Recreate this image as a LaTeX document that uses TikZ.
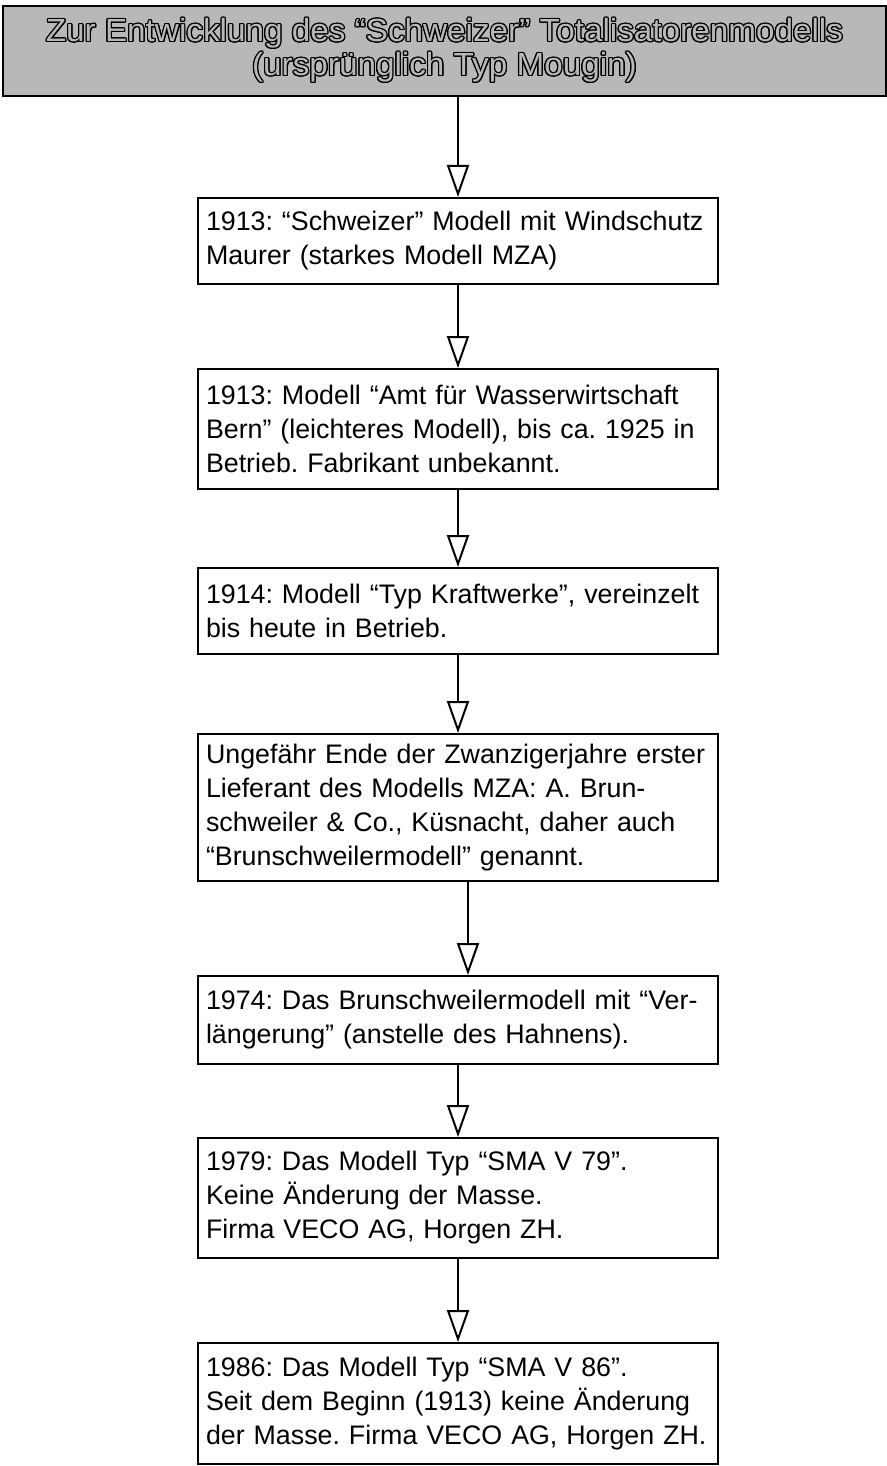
\documentclass[tikz,border=0pt]{standalone}
\usepackage{fontspec}
\setmainfont{Liberation Sans}
\newfontfamily\headfont[FakeStretch=1.04]{Liberation Sans}
\usepackage{xcolor}
\usepackage{contour}
\usetikzlibrary{arrows.meta, positioning}
\definecolor{hdgray}{gray}{0.72}
\contourlength{0.6pt}
\tikzset{
  box/.style={draw, line width=1pt, anchor=north west, text width=252pt, inner xsep=4pt,
    align=left, font=\fontsize{13.4}{17}\selectfont\frenchspacing},
  head/.style={draw, line width=1pt, fill=hdgray, anchor=north west, minimum width=441.5pt,
    minimum height=45pt, inner sep=0pt, align=center, font=\headfont\fontsize{16}{17}\selectfont},
  flow/.style={line width=1pt, -{Triangle[open, width=11pt, length=16pt, line width=1pt]}}
}
\begin{document}
\begin{tikzpicture}[x=0.5pt, y=-0.5pt]
\useasboundingbox (0,0) rectangle (887,1466);
% title
\node[head] (hd) at (2,5) {\contour{black}{\textcolor{hdgray}{Zur Entwicklung des “Schweizer” Totalisatorenmodells}}\\
  \contour{black}{\textcolor{hdgray}{(ursprünglich Typ Mougin)}}};
% steps
\node[box, minimum height=43pt] (b1) at (197,197) {1913: “Schweizer” Modell mit Windschutz\\Maurer (starkes Modell MZA)};
\node[box, minimum height=60pt] (b2) at (197,368) {1913: Modell “Amt für Wasserwirtschaft\\Bern” (leichteres Modell), bis ca. 1925 in\\Betrieb. Fabrikant unbekannt.};
\node[box, minimum height=43pt] (b3) at (197,567) {1914: Modell “Typ Kraftwerke”, vereinzelt\\bis heute in Betrieb.};
\node[box, minimum height=73.5pt] (b4) at (197,733) {Ungefähr Ende der Zwanzigerjahre erster\\Lieferant des Modells MZA: A. Brun-\\schweiler \& Co., Küsnacht, daher auch\\“Brunschweilermodell” genannt.};
\node[box, minimum height=44pt] (b5) at (197,975) {1974: Das Brunschweilermodell mit “Ver-\\längerung” (anstelle des Hahnens).};
\node[box, minimum height=60pt] (b6) at (197,1137) {1979: Das Modell Typ “SMA V 79”.\\Keine Änderung der Masse.\\Firma VECO AG, Horgen ZH.};
\node[box, minimum height=60.5pt] (b7) at (197,1342) {1986: Das Modell Typ “SMA V 86”.\\Seit dem Beginn (1913) keine Änderung\\der Masse. Firma VECO AG, Horgen ZH.};
% arrows
\draw[flow] (hd.south -| b1.north) -- (b1.north);
\draw[flow] (b1) -- (b2);
\draw[flow] (b2) -- (b3);
\draw[flow] (b3) -- (b4);
\draw[flow] ([xshift=5pt]b4.south) -- ([xshift=5pt]b5.north);
\draw[flow] (b5) -- (b6);
\draw[flow] (b6) -- (b7);
\end{tikzpicture}
\end{document}
